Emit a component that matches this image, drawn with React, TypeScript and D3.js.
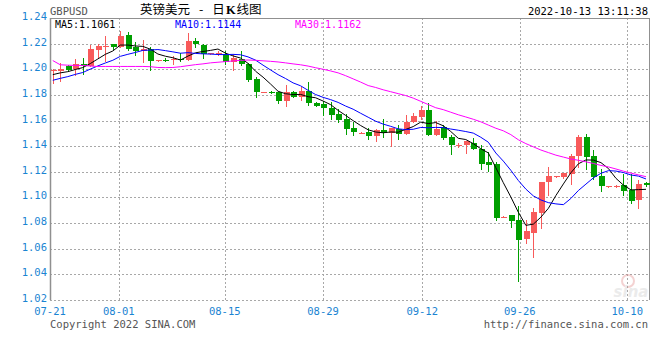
import React from "react";
import * as d3 from "d3";

// ---- data ----
const opens = [
  1.1985, 1.1987, 1.2026, 1.2004, 1.2044, 1.2028, 1.2150, 1.2175, 1.2195, 1.2174,
  1.2265, 1.2174, 1.2145, 1.2156, 1.2068, 1.2074, 1.2070, 1.2083, 1.2073, 1.2221,
  1.2192, 1.2122, 1.2125, 1.2123, 1.2057, 1.2082, 1.2039, 1.1928, 1.1823, 1.1826,
  1.1823, 1.1754, 1.1823, 1.1787, 1.1831, 1.1736, 1.1731, 1.1700, 1.1654, 1.1614,
  1.1541, 1.1504, 1.1510, 1.1479, 1.1523, 1.1505, 1.1536, 1.1492, 1.1588, 1.1627,
  1.1679, 1.1484, 1.1549, 1.1471, 1.1409, 1.1406, 1.1427, 1.1380, 1.1276, 1.1263,
  1.0849, 1.0862, 1.0823, 1.0675, 1.0725, 1.0880, 1.1121, 1.1164, 1.1160, 1.1186,
  1.1320, 1.1471, 1.1320, 1.1165, 1.1086, 1.1087, 1.1097, 1.1060, 1.0983, 1.1110,
];
const closes = [
  1.1998, 1.2000, 1.1997, 1.2043, 1.2028, 1.2155, 1.2179, 1.2178, 1.2174, 1.2258,
  1.2156, 1.2143, 1.2161, 1.2065, 1.2070, 1.2070, 1.2083, 1.2073, 1.2218, 1.2197,
  1.2123, 1.2125, 1.2127, 1.2057, 1.2090, 1.2039, 1.1918, 1.1821, 1.1825, 1.1822,
  1.1756, 1.1823, 1.1787, 1.1831, 1.1733, 1.1715, 1.1695, 1.1646, 1.1608, 1.1536,
  1.1510, 1.1506, 1.1479, 1.1523, 1.1505, 1.1541, 1.1497, 1.1588, 1.1634, 1.1679,
  1.1484, 1.1536, 1.1463, 1.1411, 1.1413, 1.1437, 1.1375, 1.1264, 1.1250, 1.0836,
  1.0851, 1.0818, 1.0668, 1.0738, 1.0885, 1.1121, 1.1165, 1.1166, 1.1191, 1.1320,
  1.1471, 1.1315, 1.1160, 1.1093, 1.1088, 1.1089, 1.1050, 1.0975, 1.1103, 1.1100,
];
const highs = [
  1.2005, 1.2050, 1.2035, 1.2083, 1.2090, 1.2187, 1.2200, 1.2260, 1.2197, 1.2300,
  1.2290, 1.2213, 1.2226, 1.2174, 1.2072, 1.2085, 1.2104, 1.2127, 1.2286, 1.2247,
  1.2200, 1.2126, 1.2140, 1.2141, 1.2108, 1.2141, 1.2052, 1.1936, 1.1826, 1.1831,
  1.1823, 1.1874, 1.1831, 1.1862, 1.1900, 1.1746, 1.1751, 1.1741, 1.1690, 1.1652,
  1.1588, 1.1507, 1.1541, 1.1536, 1.1614, 1.1541, 1.1562, 1.1645, 1.1660, 1.1712,
  1.1738, 1.1593, 1.1562, 1.1489, 1.1427, 1.1437, 1.1463, 1.1406, 1.1354, 1.1276,
  1.0852, 1.0862, 1.0932, 1.0823, 1.0916, 1.1121, 1.1237, 1.1167, 1.1193, 1.1341,
  1.1491, 1.1496, 1.1367, 1.1224, 1.1089, 1.1096, 1.1186, 1.1186, 1.1137, 1.1122,
];
const lows = [
  1.1890, 1.1910, 1.1990, 1.1958, 1.1966, 1.2025, 1.2090, 1.2062, 1.2156, 1.2170,
  1.2148, 1.2114, 1.2057, 1.1997, 1.2066, 1.2062, 1.2039, 1.2062, 1.2070, 1.2177,
  1.2090, 1.2121, 1.2112, 1.2039, 1.1993, 1.2031, 1.1910, 1.1782, 1.1822, 1.1818,
  1.1733, 1.1713, 1.1785, 1.1762, 1.1723, 1.1713, 1.1643, 1.1615, 1.1592, 1.1497,
  1.1484, 1.1503, 1.1453, 1.1437, 1.1471, 1.1399, 1.1453, 1.1492, 1.1588, 1.1614,
  1.1484, 1.1484, 1.1453, 1.1342, 1.1393, 1.1344, 1.1375, 1.1225, 1.1206, 1.0828,
  1.0848, 1.0771, 1.0352, 1.0647, 1.0538, 1.0758, 1.1017, 1.1163, 1.1155, 1.1108,
  1.1237, 1.1224, 1.1147, 1.1051, 1.1085, 1.1082, 1.1017, 1.0953, 1.0920, 1.1093,
];
// closes of the nine sessions before the first visible one (estimated from the MA start values)
const priorCloses = [1.1850, 1.1860, 1.1870, 1.1880, 1.1890, 1.1930, 1.1950, 1.1960, 1.1952];
const ma30Values = [
  1.2068, 1.2035, 1.2032, 1.2030, 1.2030, 1.2025, 1.2022, 1.2022, 1.2022, 1.2022,
  1.2022, 1.2022, 1.2022, 1.2020, 1.2014, 1.2013, 1.2014, 1.2020, 1.2028, 1.2036,
  1.2042, 1.2050, 1.2055, 1.2060, 1.2065, 1.2070, 1.2072, 1.2070, 1.2066, 1.2062,
  1.2057, 1.2050, 1.2042, 1.2035, 1.2025, 1.2012, 1.2000, 1.1987, 1.1972, 1.1950,
  1.1925, 1.1900, 1.1873, 1.1858, 1.1840, 1.1825, 1.1810, 1.1795, 1.1775, 1.1750,
  1.1725, 1.1700, 1.1685, 1.1665, 1.1645, 1.1628, 1.1610, 1.1590, 1.1565, 1.1540,
  1.1520, 1.1490, 1.1450, 1.1420, 1.1395, 1.1370, 1.1350, 1.1330, 1.1315, 1.1300,
  1.1290, 1.1278, 1.1265, 1.1250, 1.1238, 1.1222, 1.1205, 1.1190, 1.1176, 1.1162,
];
const yTicks = [1.24, 1.22, 1.2, 1.18, 1.16, 1.14, 1.12, 1.1, 1.08, 1.06, 1.04, 1.02];
const xTickLabels = ["07-21", "08-01", "08-15", "08-29", "09-12", "09-26", "10-10"];
const xTickPos = [-0.37, 8.8, 22.9, 36, 49.2, 62.2, 76.5];
const maNames = ["MA5", "MA10", "MA30"];
const maLegendValues = ["1.1061", "1.1144", "1.1162"];

const titleParts = ["英镑美元", "-", "日", "K", "线图"];
const symbolText = "GBPUSD";
const timeText = "2022-10-13 13:11:38";
const copyrightText = "Copyright 2022 SINA.COM";
const urlText = "http://finance.sina.com.cn";

// ---- layout / style ----
const W = 660, H = 360;
const L = 50, R = 649, T = 18, B = 300;
const UP = "#f85a5a";
const DOWN = "#009f00";
const MA_COLORS = ["#000000", "#0000ff", "#ff00ff"];
const AXIS_BLUE = "#1a84d2";
const MONO = "'DejaVu Sans Mono', monospace";
const CJK = "'Noto Sans CJK SC', sans-serif";

function rollingMean(all: number[], n: number, offset: number, count: number) {
  const out: number[] = [];
  for (let i = 0; i < count; i++) {
    const end = offset + i;
    out.push(d3.mean(all.slice(end - n + 1, end + 1)) as number);
  }
  return out;
}

export default function App() {
  const x = d3.scaleLinear().domain([-0.37, 79.4]).range([L, R]);
  const y = d3.scaleLinear().domain([1.02, 1.24]).range([B, T]);
  const n = closes.length;
  const all = [...priorCloses, ...closes];
  const ma5 = rollingMean(all, 5, priorCloses.length, n);
  const ma10 = rollingMean(all, 10, priorCloses.length, n);
  const maSeries = [ma5, ma10, ma30Values];
  const line = d3
    .line<number>()
    .x((_, i) => x(i))
    .y((v) => y(v));

  const px = (v: number) => Math.round(v) + 0.5;

  return (
    <svg
      width={W}
      height={H}
      style={{ position: "fixed", left: 0, top: 0, background: "#fff" }}
      fontFamily={MONO}
    >
      <rect x={0} y={0} width={W} height={H} fill="#fff" />
      {/* horizontal grid */}
      {yTicks.slice(1).map((t) => (
        <line
          key={"h" + t}
          x1={L}
          x2={R}
          y1={px(y(t))}
          y2={px(y(t))}
          stroke="#a8a8a8"
          strokeDasharray="2,2"
        />
      ))}
      {/* vertical grid */}
      {xTickPos.slice(1).map((p, i) => (
        <line
          key={"v" + i}
          x1={px(x(p))}
          x2={px(x(p))}
          y1={T}
          y2={B}
          stroke="#a8a8a8"
          strokeDasharray="2,2"
        />
      ))}
      {/* frame */}
      <line x1={L + 0.5} x2={L + 0.5} y1={T} y2={B} stroke="#909090" strokeWidth={1.5} />
      <line x1={R + 0.5} x2={R + 0.5} y1={T} y2={B} stroke="#909090" />
      <line x1={L} x2={R + 1} y1={px(T)} y2={px(T)} stroke="#909090" />

      {/* watermark */}
      <g opacity={0.35}>
        <circle cx={628} cy={281} r={6} fill="none" stroke="#e08080" strokeWidth={2} />
        <text x={631} y={297} textAnchor="middle" fontSize={15} fontStyle="italic" fontWeight="bold" fill="#c8c8c8" fontFamily="'DejaVu Sans', sans-serif">
          sina
        </text>
      </g>

      {/* candles */}
      {closes.map((c, i) => {
        const o = opens[i];
        const up = c >= o;
        const col = up ? UP : DOWN;
        const cx = Math.round(x(i));
        const top = Math.round(y(Math.max(o, c)));
        const bot = Math.round(y(Math.min(o, c)));
        return (
          <g key={"c" + i}>
            <line
              x1={cx + 0.5}
              x2={cx + 0.5}
              y1={Math.round(y(highs[i]))}
              y2={Math.round(y(lows[i])) + 1}
              stroke={col}
            />
            <rect x={cx - 2} y={top} width={6} height={Math.max(1, bot - top)} fill={col} />
          </g>
        );
      })}

      {/* moving averages */}
      {maSeries.map((s, k) => (
        <path key={"ma" + k} d={line(s) || ""} fill="none" stroke={MA_COLORS[k]} strokeWidth={1} />
      ))}

      {/* legend */}
      {maNames.map((m, k) => (
        <text key={"lg" + k} x={[55, 175, 295][k]} y={28} fontSize={10} fill={MA_COLORS[k]}>
          {m + ":" + maLegendValues[k]}
        </text>
      ))}

      {/* y axis labels */}
      {yTicks.map((t) => (
        <text key={"yl" + t} x={47} y={y(t) + 2} textAnchor="end" fontSize={10.5} fill={AXIS_BLUE}>
          {d3.format(".2f")(t)}
        </text>
      ))}
      {/* x axis labels */}
      {xTickLabels.map((lab, i) => (
        <text key={"xl" + i} x={x(xTickPos[i])} y={315} textAnchor="middle" fontSize={10.5} fill={AXIS_BLUE}>
          {lab}
        </text>
      ))}

      {/* header */}
      <text x={50} y={15} fontSize={10.5} fill="#555">
        {symbolText}
      </text>
      <text x={140} y={14} fontSize={12.5} fill="#000" fontFamily={CJK}>
        {titleParts[0]}
        <tspan dx={9}>{titleParts[1]}</tspan>
        <tspan dx={9}>{titleParts[2]}</tspan>
        <tspan dx={1} fontWeight="bold" fontFamily="'Liberation Serif', serif">{titleParts[3]}</tspan>
        <tspan dx={1}>{titleParts[4]}</tspan>
      </text>
      <text x={648} y={15} textAnchor="end" fontSize={10.5} fill="#000">
        {timeText}
      </text>

      {/* footer */}
      <text x={50} y={328} fontSize={10.5} fill="#555">
        {copyrightText}
      </text>
      <text x={648} y={328} textAnchor="end" fontSize={10.5} fill="#555">
        {urlText}
      </text>
    </svg>
  );
}
